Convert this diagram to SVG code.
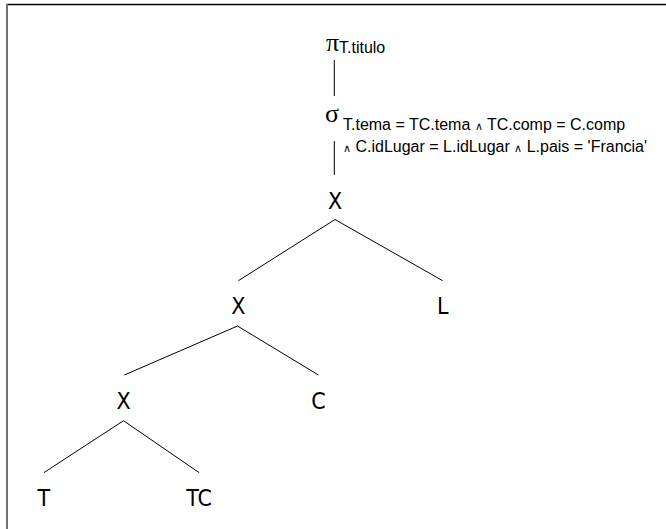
<svg xmlns="http://www.w3.org/2000/svg" width="666" height="529" viewBox="0 0 666 529">
<style>
.node{font-family:'DejaVu Sans Condensed','DejaVu Sans',sans-serif;font-stretch:condensed;font-size:23px;fill:#000;text-anchor:middle}
.op{font-family:'Liberation Serif','DejaVu Serif',serif;font-size:26px;fill:#000}
.sub{font-family:'Liberation Sans',Arial,sans-serif;font-size:16px;fill:#000}
.and{font-size:11px}
.edge{stroke:#000;stroke-width:1;fill:none}
</style>
<rect x="0" y="0" width="666" height="529" fill="#fff"/>
<g id="frame">
<line x1="6" y1="3.5" x2="666" y2="3.5" stroke="#c8c8c8" stroke-width="1"/>
<line x1="6" y1="4.7" x2="666" y2="4.7" stroke="#000" stroke-width="1.3"/>
<line x1="7" y1="4" x2="7" y2="529" stroke="#707070" stroke-width="2"/>
</g>
<g id="connectors">
<line class="edge" x1="334.3" y1="60" x2="334.3" y2="96"/>
<line class="edge" x1="334.3" y1="141" x2="334.3" y2="175"/>
<line class="edge" x1="335" y1="219.5" x2="238.4" y2="280.7"/>
<line class="edge" x1="335" y1="219.5" x2="442.7" y2="280.7"/>
<line class="edge" x1="237.5" y1="326" x2="124.3" y2="375"/>
<line class="edge" x1="237.5" y1="326" x2="318.4" y2="375"/>
<line class="edge" x1="123.5" y1="420.7" x2="43.8" y2="472.7"/>
<line class="edge" x1="123.5" y1="420.7" x2="199.2" y2="472.7"/>
</g>
<g id="projection">
<text class="op" x="326" y="51">π</text>
<text class="sub" x="339" y="52.5">T.titulo</text>
</g>
<g id="selection">
<text class="op" x="325" y="122">σ</text>
<text class="sub" x="343" y="130">T.tema = TC.tema <tspan class="and">∧</tspan> TC.comp = C.comp</text>
<text class="sub" x="343" y="151.5"><tspan class="and">∧</tspan> C.idLugar = L.idLugar <tspan class="and">∧</tspan> L.pais = 'Francia'</text>
</g>
<g id="x1"><text class="node" x="335" y="209">X</text></g>
<g id="x2"><text class="node" x="238.4" y="314">X</text></g>
<g id="L"><text class="node" x="442.7" y="314">L</text></g>
<g id="x3"><text class="node" x="123.5" y="409">X</text></g>
<g id="C"><text class="node" x="318.4" y="409">C</text></g>
<g id="T"><text class="node" x="43.8" y="506">T</text></g>
<g id="TC"><text class="node" x="199.2" y="506">TC</text></g>
</svg>
